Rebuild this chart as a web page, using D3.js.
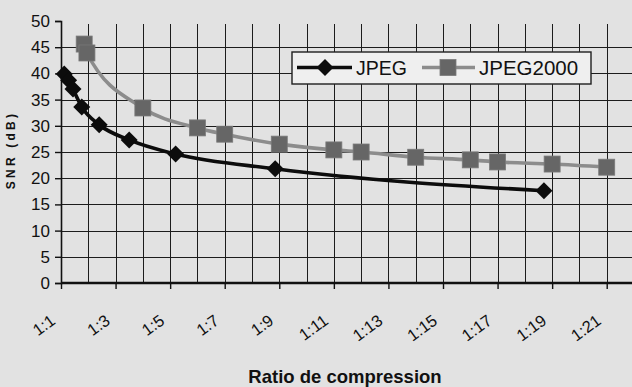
<!DOCTYPE html>
<html>
<head>
<meta charset="utf-8">
<script src="https://cdn.jsdelivr.net/npm/d3@7"></script>
<style>
  html, body { margin: 0; padding: 0; background: #e2e2e2; }
  svg { display: block; font-family: 'Liberation Sans', Arial, sans-serif; }
</style>
</head>
<body>
<svg id="chart" width="632" height="387"></svg>
<script>
// values
var jpegRatio = [1.12, 1.28, 1.44, 1.76, 2.4, 3.5, 5.2, 8.85, 18.7]
var jpegSNR = [39.9, 38.7, 37.0, 33.6, 30.2, 27.3, 24.6, 21.8, 17.6]
var j2kRatio = [1.85, 1.95, 4, 6, 7, 9, 11, 12, 14, 16, 17, 19, 21]
var j2kSNR = [45.6, 43.9, 33.4, 29.6, 28.4, 26.5, 25.4, 25.0, 24.0, 23.5, 23.1, 22.7, 22.1]
var xTicks = [1, 3, 5, 7, 9, 11, 13, 15, 17, 19, 21]
var xTickLabels = ['1:1', '1:3', '1:5', '1:7', '1:9', '1:11', '1:13', '1:15', '1:17', '1:19', '1:21']
var xGrid = [2, 3, 4, 5, 6, 7, 8, 9, 10, 11, 12, 13, 14, 15, 16, 17, 18, 19, 20, 21, 22]
var yTicks = [0, 5, 10, 15, 20, 25, 30, 35, 40, 45, 50]
var yGrid = [5, 10, 15, 20, 25, 30, 35, 40, 45]
var seriesNames = ['JPEG', 'JPEG2000']

var svg = d3.select('#chart')
var width = +svg.attr('width')
var height = +svg.attr('height')
var margin = { top: 21, left: 61, bottom: 104 }

var x = d3.scaleLinear().domain([1, 22]).range([margin.left, 634])
var y = d3.scaleLinear().domain([0, 50]).range([height - margin.bottom, margin.top])

// grid: crisp 1px lines snapped to the pixel grid
var gGrid = svg.append('g').attr('shape-rendering', 'crispEdges')
gGrid.selectAll('line.h')
  .data(yGrid).enter().append('line')
  .attr('class', 'h')
  .attr('x1', x(1)).attr('x2', width)
  .attr('y1', function (d) { return Math.round(y(d)) + 0.5 })
  .attr('y2', function (d) { return Math.round(y(d)) + 0.5 })
  .attr('stroke', '#1c1c1c').attr('stroke-width', 1)
gGrid.selectAll('line.v')
  .data(xGrid).enter().append('line')
  .attr('class', 'v')
  .attr('x1', function (d) { return Math.round(x(d)) + 0.5 })
  .attr('x2', function (d) { return Math.round(x(d)) + 0.5 })
  .attr('y1', y(49.5)).attr('y2', y(0))
  .attr('stroke', '#1c1c1c').attr('stroke-width', 1)

// axes
var gYaxis = svg.append('g')
  .attr('transform', 'translate(' + x(1) + ',0)')
  .call(d3.axisLeft(y).tickValues(yTicks).tickSize(6).tickPadding(5))
gYaxis.select('.domain').attr('stroke', '#111').attr('stroke-width', 1.6)
gYaxis.selectAll('.tick line').attr('stroke', '#111').attr('stroke-width', 1.4)
gYaxis.selectAll('.tick text').attr('font-size', 17).attr('fill', '#111')
  .attr('font-family', "'Liberation Sans', Arial, sans-serif")

var gXaxis = svg.append('g')
  .attr('transform', 'translate(0,' + y(0) + ')')
  .call(d3.axisBottom(x).tickValues(xTicks).tickSize(6)
    .tickFormat(function (d, i) { return xTickLabels[i] }))
gXaxis.select('.domain').attr('stroke', '#111').attr('stroke-width', 2.6)
  .attr('d', 'M' + x(1) + ',0H' + width)
gXaxis.selectAll('.tick line').attr('stroke', '#111').attr('stroke-width', 1.4)
gXaxis.selectAll('.tick text')
  .attr('font-size', 16.5).attr('fill', '#111')
  .attr('font-family', "'Liberation Sans', Arial, sans-serif")
  .attr('text-anchor', 'end')
  .attr('y', 0).attr('dy', 0)
  .attr('transform', 'translate(-5,40) rotate(-36)')

// axis titles
svg.append('text')
  .attr('transform', 'translate(15,150) rotate(-90)')
  .attr('text-anchor', 'middle')
  .attr('font-size', 12).attr('font-weight', 'bold')
  .attr('letter-spacing', 3.2).attr('fill', '#111')
  .text('SNR (dB)')
svg.append('text')
  .attr('x', 345).attr('y', 383)
  .attr('text-anchor', 'middle')
  .attr('font-size', 18.5).attr('font-weight', 'bold').attr('fill', '#111')
  .text('Ratio de compression')

// series
var jpeg = jpegRatio.map(function (r, i) { return { r: r, v: jpegSNR[i] } })
var j2k = j2kRatio.map(function (r, i) { return { r: r, v: j2kSNR[i] } })

var line = d3.line()
  .x(function (d) { return x(d.r) })
  .y(function (d) { return y(d.v) })
  .curve(d3.curveMonotoneX)

var diamond = 'M0,-8.5L8.5,0L0,8.5L-8.5,0Z'

var gChart = svg.append('g')
gChart.append('path').datum(j2k)
  .attr('fill', 'none').attr('stroke', '#8c8c8c').attr('stroke-width', 3.6).attr('d', line)
gChart.selectAll('rect.j2k')
  .data(j2k).enter().append('rect')
  .attr('class', 'j2k')
  .attr('x', function (d) { return x(d.r) - 8 })
  .attr('y', function (d) { return y(d.v) - 8 })
  .attr('width', 16).attr('height', 16)
  .attr('fill', '#666').attr('stroke', '#7a7a7a').attr('stroke-width', 0.8)

gChart.append('path').datum(jpeg)
  .attr('fill', 'none').attr('stroke', '#0c0c0c').attr('stroke-width', 3.6).attr('d', line)
gChart.selectAll('path.jpeg')
  .data(jpeg).enter().append('path')
  .attr('class', 'jpeg')
  .attr('transform', function (d) { return 'translate(' + x(d.r) + ',' + y(d.v) + ')' })
  .attr('d', diamond).attr('fill', '#0c0c0c')

// legend
var gLegend = svg.append('g').attr('transform', 'translate(292,52)')
gLegend.append('rect')
  .attr('width', 299).attr('height', 32)
  .attr('fill', '#efefef').attr('stroke', '#1e1e1e').attr('stroke-width', 1.4)
gLegend.append('line')
  .attr('x1', 5).attr('x2', 60).attr('y1', 15.5).attr('y2', 15.5)
  .attr('stroke', '#0c0c0c').attr('stroke-width', 3.6)
gLegend.append('path')
  .attr('transform', 'translate(33,15.5)').attr('d', diamond).attr('fill', '#0c0c0c')
gLegend.append('text')
  .attr('x', 64).attr('y', 23).attr('font-size', 19.5).attr('fill', '#111')
  .text(seriesNames[0])
gLegend.append('line')
  .attr('x1', 130).attr('x2', 183).attr('y1', 15.5).attr('y2', 15.5)
  .attr('stroke', '#8c8c8c').attr('stroke-width', 3.6)
gLegend.append('rect')
  .attr('x', 148).attr('y', 7.5).attr('width', 16).attr('height', 16)
  .attr('fill', '#666').attr('stroke', '#7a7a7a').attr('stroke-width', 0.8)
gLegend.append('text')
  .attr('x', 187).attr('y', 23).attr('font-size', 20.5).attr('fill', '#111')
  .text(seriesNames[1])
</script>
</body>
</html>
